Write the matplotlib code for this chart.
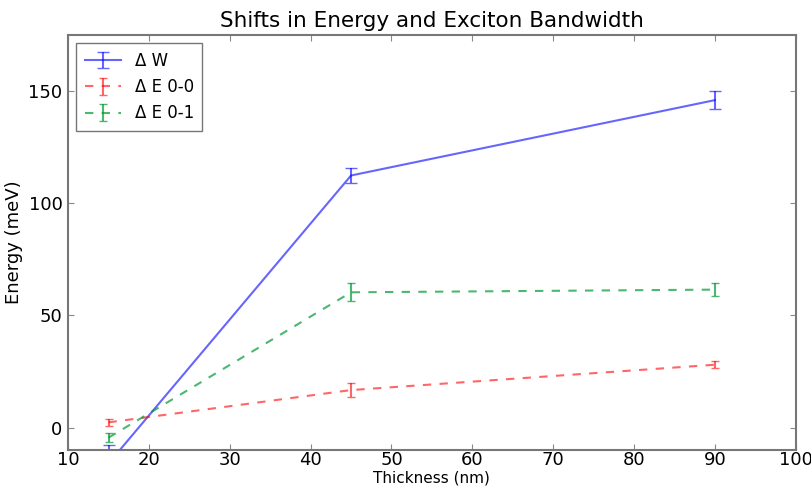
import matplotlib
matplotlib.use("Agg")
import matplotlib.pyplot as plt

thickness = [15, 45, 90]

dW = [-16, 112.4, 146]
dW_err = [8, 3.5, 4]

dE00 = [2.3, 16.7, 28]
dE00_err = [1.5, 3, 1.5]

dE01 = [-4.5, 60.3, 61.5]
dE01_err = [2, 4, 3]

plt.rcParams['font.family'] = ['DejaVu Sans']
fig = plt.figure(figsize=(8.11, 4.88), dpi=100)
ax = fig.add_axes([0.084, 0.078, 0.897, 0.850])

ax.errorbar(thickness, dW, yerr=dW_err, color='b', alpha=0.6, ls='-', lw=1.5,
            capsize=4, label=u'\u0394 W')
ax.errorbar(thickness, dE00, yerr=dE00_err, color='r', alpha=0.6, ls=(0, (4, 4)), lw=1.5,
            capsize=3, label=u'\u0394 E 0-0')
ax.errorbar(thickness, dE01, yerr=dE01_err, color='#009933', alpha=0.7, ls=(0, (4, 4)), lw=1.5,
            capsize=3, label=u'\u0394 E 0-1')

ax.set_xlim(10, 100)
ax.set_ylim(-10, 175)
ax.set_xticks(range(10, 101, 10))
ax.set_yticks([0, 50, 100, 150])
ax.tick_params(direction='in', top=True, right=True, labelsize=13, length=4,
               color='#888888', pad=4)
ax.tick_params(axis='x', pad=1)
for s in ax.spines.values():
    s.set_color('#777777')
    s.set_linewidth(1.5)

ax.set_title('Shifts in Energy and Exciton Bandwidth', fontsize=15.5)
ax.set_xlabel('Thickness (nm)', fontsize=11, labelpad=1)
ax.set_ylabel('Energy (meV)', fontsize=13)
leg = ax.legend(loc='upper left', fontsize=12, fancybox=False, edgecolor='#555555',
                handlelength=2.2, labelspacing=0.5, borderpad=0.5)

fig.savefig('out.png', dpi=100)
